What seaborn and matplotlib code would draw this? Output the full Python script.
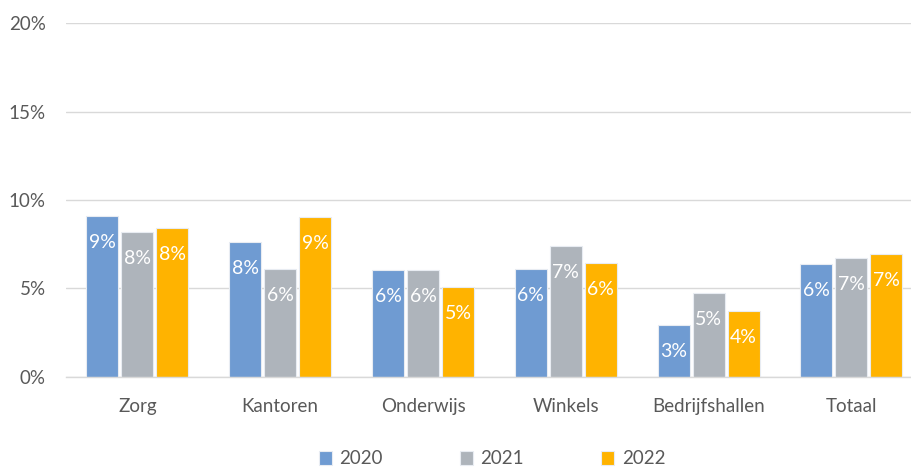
import matplotlib
matplotlib.use("Agg")
import matplotlib.pyplot as plt
import seaborn as sns
import pandas as pd
from matplotlib.ticker import FuncFormatter

categories = ["Zorg", "Kantoren", "Onderwijs", "Winkels", "Bedrijfshallen", "Totaal"]
years = ["2020", "2021", "2022"]
v2020 = [9.09, 7.60, 6.03, 6.09, 2.92, 6.37]
v2021 = [8.18, 6.07, 6.03, 7.39, 4.75, 6.70]
v2022 = [8.41, 9.05, 5.07, 6.43, 3.73, 6.92]
colors = ["#6F9BD2", "#AEB4BB", "#FFB300"]

rows = []
for yr, vals in zip(years, [v2020, v2021, v2022]):
    for c, v in zip(categories, vals):
        rows.append({"cat": c, "year": yr, "val": v})
df = pd.DataFrame(rows)

sns.set_theme(style="white")
plt.rcParams["font.family"] = ["Lato", "DejaVu Sans"]

fig = plt.figure(figsize=(9.11, 4.68), dpi=100)
ax = fig.add_axes([66/911, 1-376.7/468, 845/911, 353.5/468])

sns.barplot(data=df, x="cat", y="val", hue="year", order=categories,
            hue_order=years, palette=colors, width=0.735, gap=0.09,
            saturation=1, ax=ax, edgecolor="#E8ECF2", linewidth=0.8, legend=True)

ax.set_ylim(0, 20)
ax.set_yticks([0, 5, 10, 15, 20])
ax.yaxis.set_major_formatter(FuncFormatter(lambda v, p: f"{int(v)}%"))
ax.grid(axis="y", color="#D9D9D9", linewidth=1)
ax.set_axisbelow(True)
for s in ["top", "right", "left"]:
    ax.spines[s].set_visible(False)
ax.spines["bottom"].set_color("#D9D9D9")
ax.spines["bottom"].set_linewidth(1)
ax.set_xlabel("")
ax.set_ylabel("")
ax.tick_params(axis="both", length=0, labelsize=13.5, colors="#595959")
ax.tick_params(axis="x", pad=15)
ax.tick_params(axis="y", pad=14.5)
ax.set_xlim(-0.5, -0.5 + 845/142.8)

for cont in ax.containers:
    for bar in cont:
        h = bar.get_height()
        ax.annotate(f"{round(h):d}%", (bar.get_x() + bar.get_width()/2, h),
                    xytext=(0, -19), textcoords="offset points",
                    ha="center", va="center", color="white", fontsize=14)

leg = ax.legend(loc="center", bbox_to_anchor=((492-66)/845, (376.7-459)/353.5),
                bbox_transform=ax.transAxes, ncol=3,
                frameon=False, fontsize=13.5, handlelength=0.7, handleheight=0.7,
                columnspacing=4.1, handletextpad=0.4, borderpad=0.1)
for t in leg.get_texts():
    t.set_color("#595959")

fig.savefig("out.png", dpi=100)
